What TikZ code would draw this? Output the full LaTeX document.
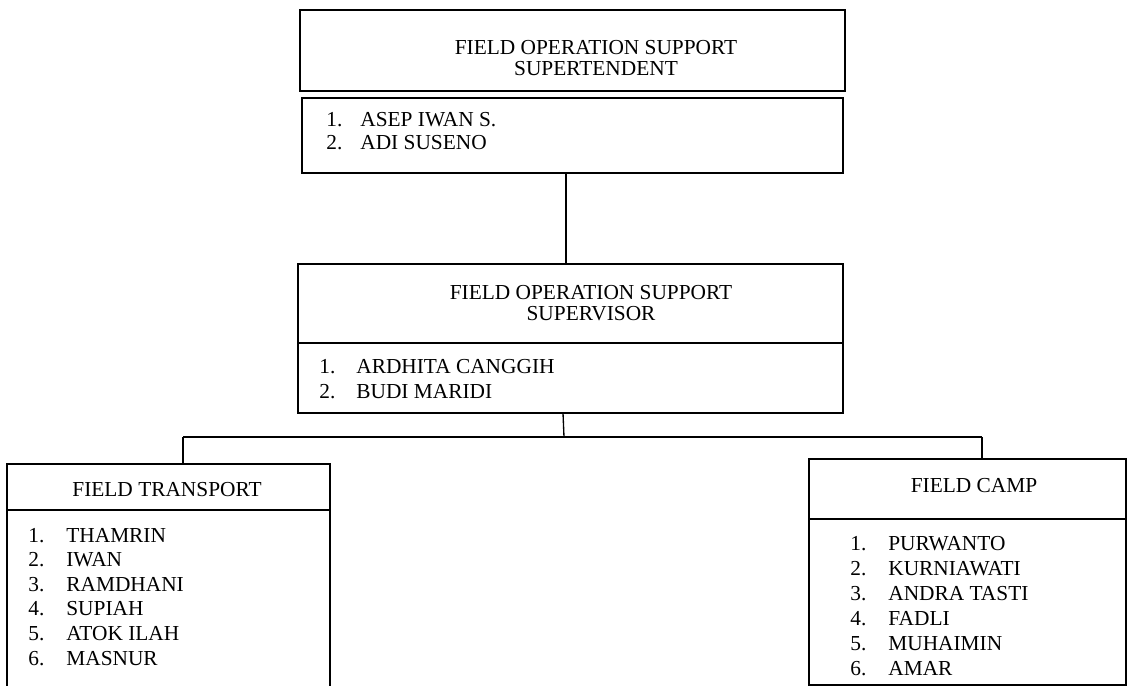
\documentclass[tikz,border=0pt]{standalone}
\usepackage{fontspec}
\setmainfont{Liberation Serif}
\def\u{0.5618pt}
\tikzset{
  box/.style={draw, line width=0.9pt, rectangle, inner sep=0pt, outer sep=0pt, anchor=north west},
  txt/.style={inner sep=0pt, font=\fontsize{12}{13.8}\selectfont},
  ttl/.style={txt, anchor=base},
  ttl2/.style={inner sep=0pt, align=center, anchor=center, font=\fontsize{12}{11.8}\selectfont},
  itm/.style={txt, anchor=base west},
  conn/.style={line width=0.75pt}
}
\begin{document}
\begin{tikzpicture}[x=0.5618pt, y=-0.5618pt]
\useasboundingbox (0,0) rectangle (1129,686);
% boxes
\node[box, minimum width=545*\u, minimum height=81*\u] (supt) at (300,10) {};
\node[box, minimum width=541*\u, minimum height=75*\u] (suptlist) at (302,98) {};
\node[box, minimum width=545*\u, minimum height=79*\u] (supv) at (298,264) {};
\node[box, minimum width=545*\u, minimum height=70*\u] (supvlist) at (298,343) {};
\node[box, minimum width=323*\u, minimum height=46*\u] (trans) at (7,464) {};
\node[box, minimum width=317*\u, minimum height=60*\u] (camp) at (809,459) {};
\node[box, minimum width=317*\u, minimum height=166*\u] (camplist) at (809,519) {};
% transport list box, open at the bottom
\coordinate (tl1) at (7,690);
\coordinate (tl2) at (330,690);
\draw[line width=0.9pt] (tl1) -- (trans.south west) (trans.south east) -- (tl2);
% titles
\node[ttl2] (t1) at (596,58) {FIELD OPERATION SUPPORT\\SUPERTENDENT};
\node[ttl2] (t2) at (591,303) {FIELD OPERATION SUPPORT\\SUPERVISOR};
\node[ttl] (t3) at (167,497) {FIELD TRANSPORT};
\node[ttl] (t4) at (974,492) {FIELD CAMP};
% top list
\node[itm] (n11) at (326,127) {1.};
\node[itm] (m11) at (360,127) {ASEP IWAN S.};
\node[itm] (n12) at (326,150) {2.};
\node[itm] (m12) at (360,150) {ADI SUSENO};
% supervisor list
\node[itm] (n21) at (319,374) {1.};
\node[itm] (m21) at (356,374) {ARDHITA CANGGIH};
\node[itm] (n22) at (319,399) {2.};
\node[itm] (m22) at (356,399) {BUDI MARIDI};
% transport list
\foreach \i/\n/\yy in {1/THAMRIN/542, 2/IWAN/566.6, 3/RAMDHANI/591.2, 4/SUPIAH/615.8, 5/ATOK ILAH/640.4, 6/MASNUR/665} {
  \node[itm] (n3\i) at (28,\yy) {\i.};
  \node[itm] (m3\i) at (66,\yy) {\n};
}
% camp list
\foreach \i/\n/\yy in {1/PURWANTO/551, 2/KURNIAWATI/575.8, 3/ANDRA TASTI/600.6, 4/FADLI/625.4, 5/MUHAIMIN/650.2, 6/AMAR/675} {
  \node[itm] (n4\i) at (850,\yy) {\i.};
  \node[itm] (m4\i) at (888,\yy) {\n};
}
% connectors
\coordinate (c1) at (566,0);
\coordinate (c2) at (563,0);
\coordinate (j) at (564,437);
\coordinate (jl) at (183,437);
\coordinate (jr) at (982,437);
\draw[conn] (suptlist.south -| c1) -- (supv.north -| c1);
\draw[conn] (supvlist.south -| c2) -- (j);
\draw[conn] (jl) -- (jr);
\draw[conn] (jl) -- (trans.north -| jl);
\draw[conn] (jr) -- (camp.north -| jr);
\end{tikzpicture}
\end{document}
